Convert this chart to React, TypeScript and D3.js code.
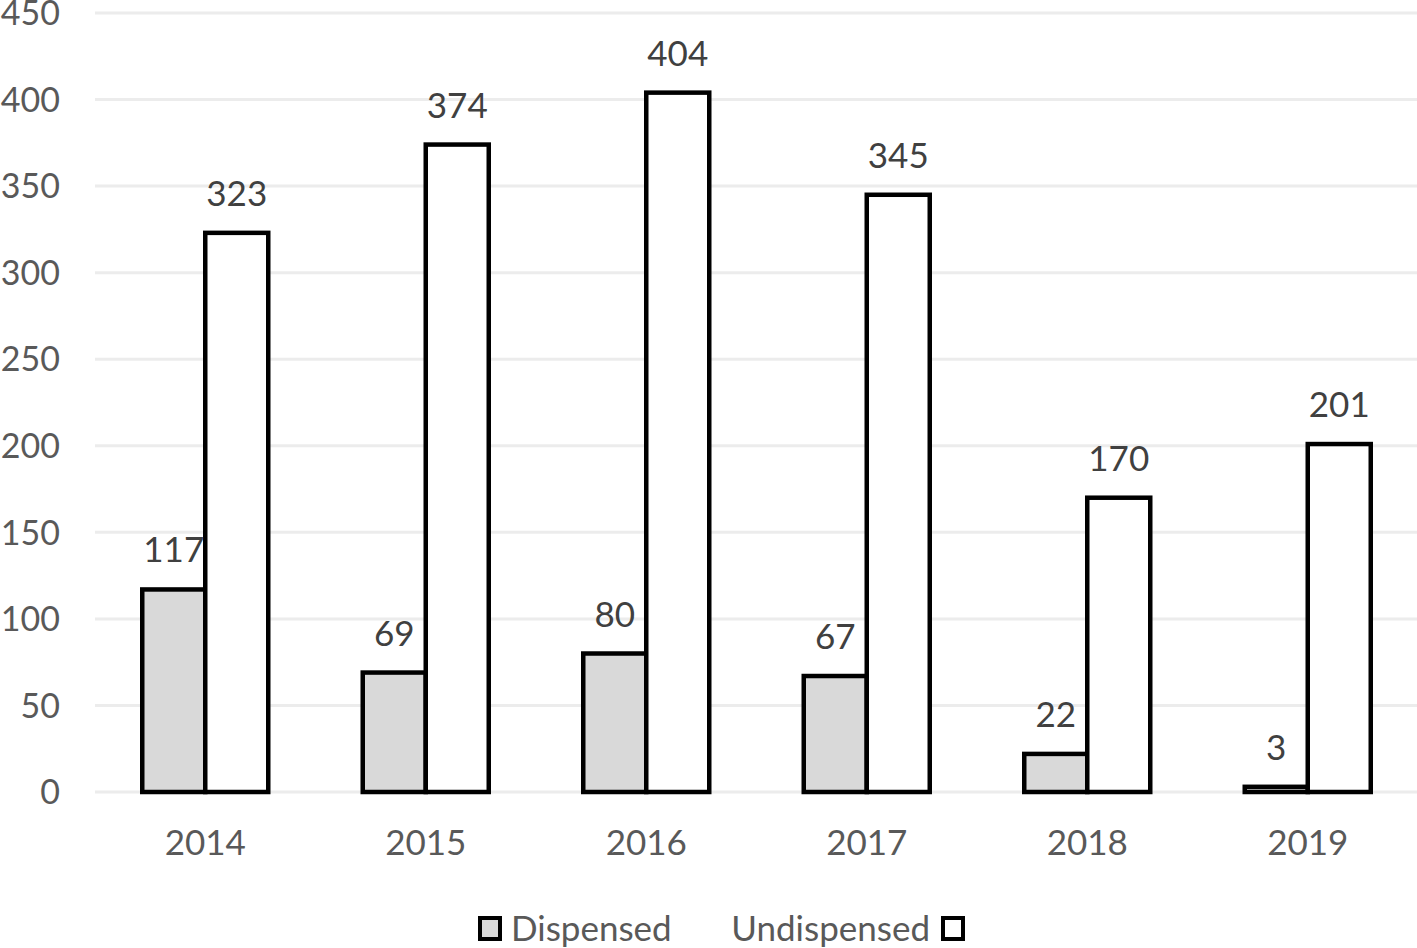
import React from "react";
import * as d3 from "d3";

const years = ["2014", "2015", "2016", "2017", "2018", "2019"];
const dispensed = [117, 69, 80, 67, 22, 3];
const undispensed = [323, 374, 404, 345, 170, 201];
const yTicks = [0, 50, 100, 150, 200, 250, 300, 350, 400, 450];

const W = 1417;
const H = 948;
const FONT = "Lato, 'Open Sans', sans-serif";

export default function App() {
  const x = d3.scaleBand<string>().domain(years).range([95, 1418]).paddingInner(0).paddingOuter(0);
  const y = d3.scaleLinear().domain([0, 450]).range([792, 13]);
  const barW = 63;

  return (
    <svg width={W} height={H} style={{ position: "absolute", left: 0, top: 0, background: "#fff" }}>
      {yTicks.map((t) => (
        <g key={t}>
          <line x1={95} x2={W} y1={y(t)} y2={y(t)} stroke="#ececec" strokeWidth={3} />
          <text x={60} y={y(t)} dy="0.36em" textAnchor="end" fontFamily={FONT} fontSize={34} fill="#595959">
            {t}
          </text>
        </g>
      ))}
      {years.map((yr, i) => {
        const c = (x(yr) as number) + x.bandwidth() / 2;
        return (
          <g key={yr}>
            <rect x={c - barW} y={y(dispensed[i])} width={barW} height={y(0) - y(dispensed[i])} fill="#d9d9d9" stroke="#000" strokeWidth={4.5} />
            <rect x={c} y={y(undispensed[i])} width={barW} height={y(0) - y(undispensed[i])} fill="#fff" stroke="#000" strokeWidth={4.5} />
            <text x={c - barW / 2} y={y(dispensed[i]) - 27} textAnchor="middle" fontFamily={FONT} fontSize={35} fill="#404040">
              {dispensed[i]}
            </text>
            <text x={c + barW / 2} y={y(undispensed[i]) - 27} textAnchor="middle" fontFamily={FONT} fontSize={35} fill="#404040">
              {undispensed[i]}
            </text>
            <text x={c} y={855} textAnchor="middle" fontFamily={FONT} fontSize={35} fill="#595959">
              {yr}
            </text>
          </g>
        );
      })}
      <g>
        <rect x={480} y={918} width={20} height={21} fill="#d9d9d9" stroke="#000" strokeWidth={4} />
        <text x={511} y={941} fontFamily={FONT} fontSize={35} fill="#595959">Dispensed</text>
        <text x={930} y={941} textAnchor="end" fontFamily={FONT} fontSize={35} fill="#595959">Undispensed</text>
        <rect x={943} y={918} width={20} height={21} fill="#fff" stroke="#000" strokeWidth={4} />
      </g>
    </svg>
  );
}
